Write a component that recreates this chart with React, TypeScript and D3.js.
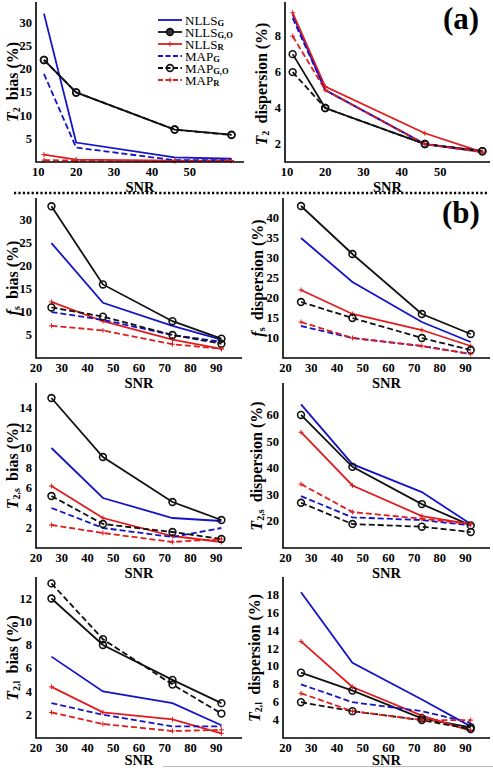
import React from 'react';
import * as d3 from 'd3';

// ---------- data ----------
const snrA = [11.5, 20, 46, 61];
const snrB = [26, 46, 73, 92];
const seriesNames = ['NLLS', 'NLLS', 'NLLS', 'MAP', 'MAP', 'MAP'];
const seriesSubs = ['G', 'G,O', 'R', 'G', 'G,O', 'R'];
const ticksA = [10, 20, 30, 40, 50];
const ticksB = [20, 30, 40, 50, 60, 70, 80, 90];

// each row follows series order: NLLS_G, NLLS_G,O, NLLS_R, MAP_G, MAP_G,O, MAP_R
const t2BiasA = [[32, 4.2, 1.0, 0.7], [22, 15, 7, 5.9], [1.6, 0.5, 0.3, 0.3], [19, 3.1, 0.4, 0.4], [22, 15, 7, 5.8], [0.4, 0.3, 0.2, 0.3]];
const t2DispA = [[9.2, 5.0, 2.0, 1.55], [7.0, 4.0, 2.0, 1.6], [9.3, 5.2, 2.6, 1.55], [9.0, 5.0, 2.0, 1.6], [6.0, 4.0, 2.0, 1.6], [8.0, 5.0, 2.0, 1.55]];
const fsBias = [[25, 12, 7, 4], [33, 16, 8, 4.2], [12.2, 8, 4, 2], [10, 8.3, 5, 3.5], [11, 9, 5, 3.1], [7, 6, 3, 2]];
const fsDisp = [[35, 24, 14, 9], [43, 31, 16, 11], [22, 16, 12, 8], [13, 10, 8, 6], [19, 15, 10, 7], [14, 10, 8, 6]];
const t2sBias = [[10, 5, 3, 2.7], [15, 9.1, 4.6, 2.8], [6.2, 3, 1.2, 0.6], [4, 2, 1.1, 2], [5.2, 2.4, 1.6, 0.9], [2.3, 1.5, 0.6, 0.9]];
const t2sDisp = [[64, 41.5, 31, 19], [60, 40.5, 26.5, 18.5], [53.5, 33.5, 22, 19], [29.5, 21.5, 20.5, 18.5], [27, 19, 18, 16], [34, 23.5, 21, 19]];
const t2lBias = [[7, 4, 3, 1.1], [12, 8, 5, 3], [4.4, 2.2, 1.6, 0.4], [3, 2, 1, 1], [13.3, 8.5, 4.6, 2.1], [2.2, 1.2, 0.6, 0.7]];
const t2lDisp = [[18.3, 10.4, 6.3, 3.3], [9.3, 7.3, 4.2, 3.2], [12.8, 7.7, 4.5, 2.8], [8, 6, 5, 3.7], [6, 5, 4, 3], [7, 5, 4, 4]];

const yT2BiasA = [5, 10, 15, 20, 25, 30];
const yT2DispA = [2, 4, 6, 8];
const yFsBias = [5, 10, 15, 20, 25, 30];
const yFsDisp = [10, 15, 20, 25, 30, 35, 40];
const yT2sBias = [2, 4, 6, 8, 10, 12, 14];
const yT2sDisp = [20, 30, 40, 50, 60];
const yT2lBias = [2, 4, 6, 8, 10, 12];
const yT2lDisp = [4, 6, 8, 10, 12, 14, 16, 18];

// ---------- style ----------
const BLUE = '#1414c8';
const RED = '#e01c1c';
const BLACK = '#111';
const FONT = '"Liberation Serif", "Times New Roman", serif';
const styles = [
  { color: BLUE, dash: undefined, marker: 'none' },
  { color: BLACK, dash: undefined, marker: 'circle' },
  { color: RED, dash: undefined, marker: 'plus' },
  { color: BLUE, dash: '6,3', marker: 'none' },
  { color: BLACK, dash: '6,3', marker: 'circle' },
  { color: RED, dash: '6,3', marker: 'plus' },
];

function Marker({ kind, x, y, color, filled }: any) {
  if (kind === 'circle')
    return <circle cx={x} cy={y} r={3.4} fill={filled ? '#333' : 'none'} stroke={BLACK} strokeWidth={1.6} />;
  if (kind === 'plus')
    return (
      <g stroke={color} strokeWidth={1}>
        <line x1={x - 2.5} x2={x + 2.5} y1={y} y2={y} />
        <line x1={x} x2={x} y1={y - 2.5} y2={y + 2.5} />
      </g>
    );
  return null;
}

function YLabel({ x, y, sym, sub, text }: any) {
  return (
    <text transform={`translate(${x},${y}) rotate(-90)`} textAnchor="middle" fontFamily={FONT} fontWeight="bold" fontSize={16} fill="#000" dominantBaseline="central">
      <tspan fontStyle="italic">{sym}</tspan>
      <tspan fontSize={10} dy={4}>{sub}</tspan>
      <tspan dy={-4}>{'\u2009' + text}</tspan>
    </text>
  );
}

function Panel({ x0, x1, y0, y1, xDomain, yDomain, xTicks, yTicks, snr, data, label, snrDy = 24.5 }: any) {
  const xs = d3.scaleLinear().domain(xDomain).range([x0, x1]);
  const ys = d3.scaleLinear().domain(yDomain).range([y1, y0]);
  const line = d3.line<number>().x((_, i) => xs(snr[i])).y((d) => ys(d));
  return (
    <g>
      {data.map((vals: number[], k: number) => (
        <path key={'l' + k} d={line(vals) || ''} fill="none" stroke={styles[k].color} strokeWidth={1.8} strokeDasharray={styles[k].dash} />
      ))}
      {data.map((vals: number[], k: number) =>
        vals.map((v, i) => <Marker key={'m' + k + '-' + i} kind={styles[k].marker} x={xs(snr[i])} y={ys(v)} color={styles[k].color} />)
      )}
      <path d={`M${x0},${y0}V${y1}H${x1}`} fill="none" stroke="#000" strokeWidth={1.6} />
      {yTicks.map((t: number) => (
        <text key={'y' + t} x={x0 - 4} y={ys(t)} textAnchor="end" dominantBaseline="central" fontFamily={FONT} fontWeight="bold" fontSize={12.5}>{t}</text>
      ))}
      {xTicks.map((t: number) => (
        <text key={'x' + t} x={xs(t)} y={y1 + 9.5} textAnchor="middle" dominantBaseline="central" fontFamily={FONT} fontWeight="bold" fontSize={12.5}>{t}</text>
      ))}
      <text x={(x0 + x1) / 2} y={y1 + snrDy} textAnchor="middle" dominantBaseline="central" fontFamily={FONT} fontWeight="bold" fontSize={14.5}>SNR</text>
      {label}
    </g>
  );
}

function Legend({ x, y, step }: any) {
  return (
    <g>
      {seriesNames.map((n, k) => {
        const yy = y + k * step;
        return (
          <g key={k}>
            <line x1={x} x2={x + 24} y1={yy} y2={yy} stroke={styles[k].color} strokeWidth={1.8} strokeDasharray={styles[k].dash ? '5,2.5' : undefined} />
            <Marker kind={styles[k].marker} x={x + 12} y={yy} color={styles[k].color} filled={k === 1} />
            <text x={x + 27} y={yy} dominantBaseline="central" fontFamily={FONT} fontSize={13}>
              {n}
              <tspan fontSize={8.5} fontWeight="bold" dy={2.5}>{seriesSubs[k]}</tspan>
            </text>
          </g>
        );
      })}
    </g>
  );
}

export default function App() {
  const L = [36, 242];
  const R = [283, 490];
  const dB = [20, 100];
  const dBR = [19, 99.5];
  return (
    <svg width={493} height={768} style={{ position: 'absolute', left: 0, top: 0, background: '#fff' }}>
      <rect width={493} height={768} fill="#fff" />
      {/* (a) */}
      <Panel x0={36} x1={244} y0={2} y1={162} xDomain={[9.4, 64.3]} yDomain={[0, 34.5]} xTicks={ticksA} yTicks={yT2BiasA} snr={snrA} data={t2BiasA}
        label={<YLabel x={12} y={82} sym="T" sub="2" text=" bias (%)" />} />
      <Panel x0={285} x1={490} y0={2} y1={162} xDomain={[9.5, 63]} yDomain={[1, 9.9]} xTicks={ticksA} yTicks={yT2DispA} snr={snrA} data={t2DispA}
        label={<YLabel x={261} y={84} sym="T" sub="2" text=" dispersion (%)" />} />
      <Legend x={158} y={20} step={12} />
      <text x={461} y={18} textAnchor="middle" dominantBaseline="central" fontFamily={FONT} fontWeight="bold" fontSize={31}>(a)</text>

      <line x1={14} x2={488} y1={193} y2={193} stroke="#000" strokeWidth={2.6} strokeDasharray="2.2,2.2" />
      <text x={461} y={212} textAnchor="middle" dominantBaseline="central" fontFamily={FONT} fontWeight="bold" fontSize={31}>(b)</text>

      {/* (b) row 1 */}
      <Panel x0={L[0]} x1={L[1]} y0={198} y1={358} xDomain={dB} yDomain={[0, 34.8]} xTicks={ticksB} yTicks={yFsBias} snr={snrB} data={fsBias}
        label={<YLabel x={12} y={278} sym="f" sub="s" text=" bias (%)" />} />
      <Panel x0={R[0]} x1={R[1]} y0={198} y1={358} xDomain={dBR} yDomain={[5, 45]} xTicks={ticksB} yTicks={yFsDisp} snr={snrB} data={fsDisp}
        label={<YLabel x={257} y={278} sym="f" sub="s" text=" dispersion (%)" />} />
      {/* (b) row 2 */}
      <Panel x0={L[0]} x1={L[1]} y0={383} y1={548} xDomain={dB} yDomain={[0, 16.5]} xTicks={ticksB} yTicks={yT2sBias} snr={snrB} data={t2sBias}
        label={<YLabel x={12} y={466} sym="T" sub="2,s" text=" bias (%)" />} />
      <Panel x0={R[0]} x1={R[1]} y0={383} y1={548} xDomain={dBR} yDomain={[10, 72]} xTicks={ticksB} yTicks={yT2sDisp} snr={snrB} data={t2sDisp}
        label={<YLabel x={256} y={466} sym="T" sub="2,s" text=" dispersion (%)" />} />
      {/* (b) row 3 */}
      <Panel x0={L[0]} x1={L[1]} y0={577} y1={738} xDomain={dB} yDomain={[0, 13.85]} xTicks={ticksB} yTicks={yT2lBias} snr={snrB} data={t2lBias} snrDy={22}
        label={<YLabel x={12} y={658} sym="T" sub="2,l" text=" bias (%)" />} />
      <Panel x0={R[0]} x1={R[1]} y0={577} y1={738} xDomain={dBR} yDomain={[2, 20]} xTicks={ticksB} yTicks={yT2lDisp} snr={snrB} data={t2lDisp} snrDy={22}
        label={<YLabel x={254} y={658} sym="T" sub="2,l" text=" dispersion (%)" />} />
      <line x1={163} x2={493} y1={766.5} y2={766.5} stroke="#bbb" strokeWidth={1} />
    </svg>
  );
}
